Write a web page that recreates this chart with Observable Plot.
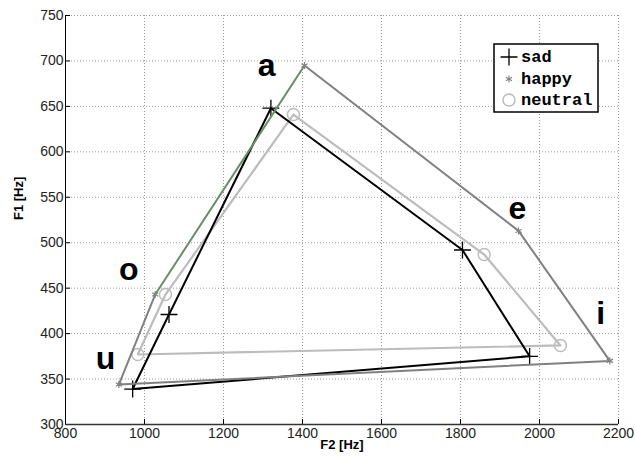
<!DOCTYPE html>
<html><head><meta charset="utf-8">
<script src="https://cdn.jsdelivr.net/npm/d3@7"></script>
<script src="https://cdn.jsdelivr.net/npm/@observablehq/plot@0.6"></script>
<style>body{margin:0;background:#fff} #chart{width:636px;height:459px}</style>
</head><body><div id="chart"></div>
<script>
const vowels = ["a", "e", "i", "u", "o"];
const sadF2 = [1320, 1805, 1975, 970, 1062];
const sadF1 = [648, 492, 375, 339, 421];
const happyF2 = [1405, 1947, 2178, 935, 1027];
const happyF1 = [695, 513, 370, 344, 443];
const neutralF2 = [1377, 1860, 2053, 983, 1053];
const neutralF1 = [641, 487, 387, 377, 443];
const labelF2 = [1309, 1944, 2155, 901, 960];
const labelF1 = [695, 537, 422, 372, 470];
const xTicks = [800, 1000, 1200, 1400, 1600, 1800, 2000, 2200];
const yTicks = [300, 350, 400, 450, 500, 550, 600, 650, 700, 750];
const legendNames = ["sad", "happy", "neutral"];

const rows = (f2, f1) => vowels.map((v, i) => ({vowel: v, f2: f2[i], f1: f1[i]}));
const sad = rows(sadF2, sadF1);
const happy = rows(happyF2, happyF1);
const neutral = rows(neutralF2, neutralF1);
const labels = rows(labelF2, labelF1);

const font = "'Liberation Sans', Arial, Helvetica, sans-serif";

const chart = Plot.plot({
  width: 636, height: 459,
  marginLeft: 65, marginRight: 18, marginTop: 15, marginBottom: 35,
  x: {domain: [800, 2200]},
  y: {domain: [300, 750]},
  style: {fontFamily: font, fontSize: "14px", color: "#222", background: "#fff"},
  marks: [
    Plot.gridX(xTicks, {stroke: "#999", strokeOpacity: 1, strokeDasharray: "1,2"}),
    Plot.gridY(yTicks, {stroke: "#999", strokeOpacity: 1, strokeDasharray: "1,2"}),
    Plot.axisX(xTicks, {tickSize: -5, tickPadding: 9, label: null, fontSize: 14, stroke: "#000", tickFormat: d => String(d)}),
    Plot.axisY(yTicks, {tickSize: -5, tickPadding: 7, label: null, fontSize: 14, stroke: "#000", tickFormat: d => String(d)}),
    Plot.ruleX([800], {stroke: "#000", strokeWidth: 1}),
    Plot.ruleY([300], {stroke: "#333", strokeWidth: 1.5}),
    Plot.line([...neutral, neutral[0]], {x: "f2", y: "f1", stroke: "#bcbcbc", strokeWidth: 2.2}),
    Plot.dot(neutral, {x: "f2", y: "f1", symbol: "circle", r: 6, stroke: "#bcbcbc", strokeWidth: 1.5, fill: "none"}),
    Plot.line([...sad, sad[0]], {x: "f2", y: "f1", stroke: "#000", strokeWidth: 2}),
    Plot.dot(sad, {x: "f2", y: "f1", symbol: "plus", r: 5.5, stroke: "#000", strokeWidth: 1.3}),
    Plot.line(happy, {x: "f2", y: "f1", stroke: "#808080", strokeWidth: 2}),
    Plot.line([happy[4], happy[0]], {x: "f2", y: "f1", stroke: "#6b8c6b", strokeWidth: 2}),
    Plot.dot(happy, {x: "f2", y: "f1", symbol: "asterisk", r: 3.3, stroke: "#808080", strokeWidth: 1.2}),
    Plot.text(labels, {x: "f2", y: "f1", text: "vowel", fontSize: 32, fontWeight: "bold", fill: "#000", lineAnchor: "middle"}),
    Plot.text(["F2 [Hz]"], {frameAnchor: "bottom", dy: 24, fontSize: 13, fontWeight: "bold", fill: "#000"}),
    Plot.text(["F1 [Hz]"], {frameAnchor: "left", dx: -47, rotate: -90, fontSize: 13, fontWeight: "bold", fill: "#000"})
  ]
});
document.getElementById("chart").appendChild(chart);

// legend
const svg = d3.select(chart);
const g = svg.append("g").attr("text-anchor", "start");
g.append("rect").attr("x", 494).attr("y", 44).attr("width", 104).attr("height", 68)
  .attr("fill", "#fff").attr("stroke", "#000").attr("stroke-width", 1.5);
const legendSym = [
  {sym: d3.symbolPlus, size: Math.PI * 5.5 * 5.5, stroke: "#000", sw: 1.3},
  {sym: d3.symbolAsterisk, size: Math.PI * 3.3 * 3.3, stroke: "#808080", sw: 1.2},
  {sym: d3.symbolCircle, size: Math.PI * 36, stroke: "#bcbcbc", sw: 1.5}
];
const ys = [57, 79, 100];
legendNames.forEach((name, i) => {
  g.append("path").attr("d", d3.symbol(legendSym[i].sym, legendSym[i].size)())
    .attr("transform", `translate(509,${ys[i]})`)
    .attr("fill", "none").attr("stroke", legendSym[i].stroke).attr("stroke-width", legendSym[i].sw);
  g.append("text").attr("x", 521).attr("y", ys[i] + 5).text(name)
    .attr("text-anchor", "start")
    .attr("font-family", "'Liberation Mono', 'Courier New', monospace")
    .attr("font-weight", "bold").attr("font-size", 17).attr("fill", "#000");
});
</script></body></html>
